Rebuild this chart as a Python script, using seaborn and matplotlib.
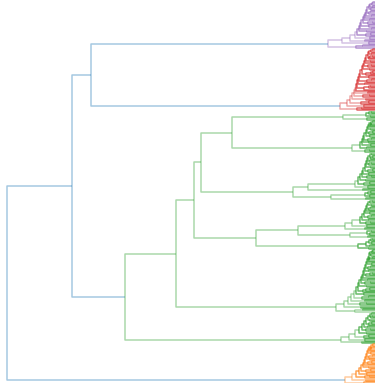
import matplotlib.pyplot as plt
import seaborn as sns
from matplotlib.collections import LineCollection

sns.set_style("white")
pal = sns.color_palette("tab10")
BLUE, ORANGE, GREEN, RED, PURPLE = pal[0], pal[1], pal[2], pal[3], pal[4]

# merge heights of the upper part of the tree
merge_height = {
    "root": 36.8, "A": 30.3, "B": 28.4, "C": 25.0, "D": 19.9,
    "E": 18.1, "F": 17.4, "H": 14.3, "I": 8.2, "G": 11.9, "G1": 7.7,
}

# leaf-level clumps: (height where the group joins the chain, inner merge heights of the group)
purple = [(None, [0.2, 0.3]), (0.5, [0.2]), (0.6, [0.4]), (0.8, [0.4, 0.6]), (0.9, [0.3]),
          (1.0, []), (1.1, [0.5]), (1.2, [0.2, 0.7]), (1.4, [0.6]), (1.5, [0.3]),
          (1.6, [0.8]), (1.8, [0.4, 0.9]), (2.0, [0.5]), (2.5, [1.0]), (3.3, [0.6]),
          (4.7, [1.2, 1.9])]
red = [(None, [0.2, 0.4]), (0.6, [0.3]), (0.7, [0.2, 0.5, 0.6]), (0.9, [0.4]), (1.0, []),
       (1.1, [0.3, 0.7]), (1.2, [0.5]), (1.3, [0.2, 0.4, 0.9]), (1.5, [0.6]),
       (1.6, [0.3, 0.8]), (1.7, [1.0]), (1.8, [0.4, 0.6, 1.1]), (1.9, []), (2.0, [0.7]),
       (2.1, [0.5, 1.2]), (2.3, [0.9]), (2.5, [0.6, 1.4]), (2.8, [1.1]), (3.5, [1.3, 1.8])]
green_h1 = [(None, [0.3, 0.6]), (0.9, [0.4]), (3.2, [0.8])]
green_h2 = [(None, [0.2]), (0.4, [0.3, 0.5]), (0.6, []), (0.7, [0.4]), (0.8, [0.2, 0.6]),
            (0.9, [0.5]), (1.1, [0.3, 0.7]), (1.2, [0.6]), (1.3, [0.4]), (1.5, [0.8]),
            (2.3, [0.5, 1.0])]
green_i1 = [(None, [0.3]), (0.5, [0.2, 0.4]), (0.7, [0.5]), (0.8, [0.3, 0.6]), (0.9, [0.4]),
            (1.0, [0.2, 0.7]), (1.2, [0.6]), (1.3, [0.3, 0.8]), (1.5, [0.9]),
            (1.7, [0.5, 1.1]), (2.0, [0.7]), (6.7, [1.2])]
green_i2 = [(None, [0.4, 0.7]), (1.0, [0.5]), (4.4, [0.9])]
green_g1a = [(None, [0.2, 0.5]), (0.7, [0.3]), (0.8, [0.4, 0.6]), (0.9, []), (1.0, [0.5]),
             (1.1, [0.3, 0.7]), (1.3, [0.6]), (1.5, [0.4, 0.9]), (2.3, [0.8]), (3.0, [1.0])]
green_g1b = [(None, [0.3]), (0.8, [0.5]), (2.5, [0.7])]
green_g2 = [(None, [0.2, 0.4]), (0.6, [0.3]), (0.9, [0.5]), (1.7, [0.6])]
green_d2 = [(None, [0.2, 0.3]), (0.5, [0.4]), (0.6, [0.2, 0.5, 0.6]), (0.7, []), (0.8, [0.3]),
            (0.9, [0.4, 0.7]), (1.0, [0.6]), (1.1, [0.2, 0.5, 0.9]), (1.2, []), (1.3, [0.7]),
            (1.4, [0.4, 1.0]), (1.6, [0.8]), (1.7, [0.5, 0.9, 1.2]), (1.9, [1.1]),
            (2.1, [0.6, 1.3]), (2.4, [1.0]), (2.7, [0.8, 1.5]), (3.1, [1.4]), (3.9, [1.2, 2.0])]
green_c2 = [(None, [0.3]), (0.5, [0.2, 0.4]), (0.7, [0.5]), (0.9, [0.3, 0.6]), (1.1, [0.7]),
            (1.3, [0.4, 0.9]), (1.6, [0.8]), (2.0, [0.6, 1.1]), (2.6, [1.0]), (3.4, [1.3])]
orange = [(None, [0.2]), (0.4, [0.3, 0.5]), (0.6, []), (0.7, [0.4]), (0.8, [0.2, 0.6]),
          (0.9, [0.5]), (1.0, [0.3, 0.7]), (1.1, []), (1.2, [0.6]), (1.4, [0.4, 0.9]),
          (1.6, [0.8]), (1.9, [0.5, 1.0]), (2.3, [0.9]), (3.0, [1.1])]


def bundle(inner, color):
    node = None  # None = leaf
    for h in inner:
        node = (h, node, None, color)
    return node


def chain(elems, color):
    node = bundle(elems[0][1], color)
    for join, inner in elems[1:]:
        node = (join, node, bundle(inner, color), color)
    return node


m = merge_height
g1 = (m["G1"], chain(green_g1a, GREEN), chain(green_g1b, GREEN), GREEN)
g = (m["G"], g1, chain(green_g2, GREEN), GREEN)
h = (m["H"], chain(green_h1, GREEN), chain(green_h2, GREEN), GREEN)
i = (m["I"], chain(green_i1, GREEN), chain(green_i2, GREEN), GREEN)
f = (m["F"], h, i, GREEN)
e = (m["E"], f, g, GREEN)
d = (m["D"], e, chain(green_d2, GREEN), GREEN)
c = (m["C"], d, chain(green_c2, GREEN), GREEN)
b = (m["B"], chain(purple, PURPLE), chain(red, RED), BLUE)
a = (m["A"], b, c, BLUE)
tree = (m["root"], a, chain(orange, ORANGE), BLUE)

segments, colors = [], []
count = [0]


def layout(node):
    if node is None:
        y = count[0]
        count[0] += 1
        return y, 0.0
    hh, left, right, col = node
    yl, hl = layout(left)
    yr, hr = layout(right)
    segments.append([(hl, yl), (hh, yl), (hh, yr), (hr, yr)])
    # low links sit in the dense comb, which reads darker in the reference
    colors.append((*col, 0.7 if hh < 2.0 else 0.4))
    return (yl + yr) / 2, hh


layout(tree)
n_leaves = count[0]

fig = plt.figure(figsize=(3.75, 3.83), dpi=100)
ax = fig.add_axes([0, 0, 1, 1])
ax.add_collection(LineCollection(segments, colors=colors, linewidths=1.1))
ax.set_xlim(m["root"] * 375 / 368, 0)
# bottom leaves run slightly past the lower edge, as in the reference
ax.set_ylim(n_leaves - 1.5, -1.5)
ax.axis("off")

fig.savefig("out.png", dpi=100)
plt.close(fig)
